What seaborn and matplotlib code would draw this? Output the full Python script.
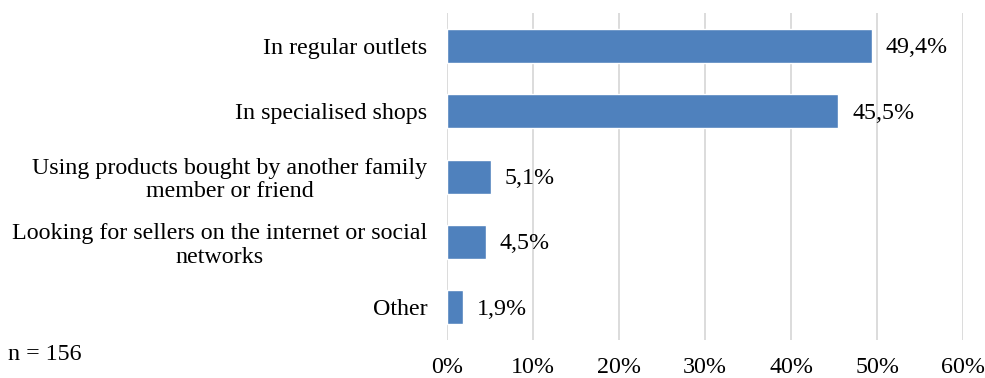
import matplotlib
matplotlib.use("Agg")
import matplotlib.pyplot as plt
import seaborn as sns
import pandas as pd

categories = [
    "In regular outlets",
    "In specialised shops",
    "Using products bought by another family\nmember or friend",
    "Looking for sellers on the internet or social\nnetworks",
    "Other",
]
values = [49.4, 45.5, 5.1, 4.5, 1.9]
value_labels = ["49,4%", "45,5%", "5,1%", "4,5%", "1,9%"]
x_ticks = [0, 10, 20, 30, 40, 50, 60]
x_tick_labels = ["0%", "10%", "20%", "30%", "40%", "50%", "60%"]
note = "n = 156"

sns.set_theme(style="white")
plt.rcParams["font.family"] = ["Liberation Serif", "DejaVu Serif"]
plt.rcParams["text.color"] = "black"
plt.rcParams["xtick.color"] = "black"
plt.rcParams["ytick.color"] = "black"

FS = 17.3

df = pd.DataFrame({"category": categories, "value": values})

fig = plt.figure(figsize=(9.85, 3.78), dpi=100)
ax = fig.add_axes([0.4538, 0.1005, 0.5240, 0.8651])

sns.barplot(data=df, x="value", y="category", orient="h", color="#4F81BD",
            saturation=1, width=0.52, ax=ax, zorder=3)

ax.set_xlim(0, 60)
ax.set_xticks(x_ticks)
ax.set_xticklabels(x_tick_labels, fontsize=FS)
ax.tick_params(axis="y", labelsize=FS, length=0, pad=14)
ax.tick_params(axis="x", length=0, pad=12)
for lbl in ax.get_yticklabels():
    lbl.set_linespacing(1.14)
    lbl.set_multialignment("center")
ax.set_xlabel("")
ax.set_ylabel("")
ax.xaxis.grid(True, color="#D9D9D9", linewidth=1.3, zorder=0)
ax.yaxis.grid(False)
for s in ax.spines.values():
    s.set_visible(False)

for i, (v, t) in enumerate(zip(values, value_labels)):
    ax.annotate(t, xy=(v, i), xytext=(14, -2), textcoords="offset pixels",
                va="center", ha="left", fontsize=FS, color="black")

fig.text(8 / 985, 1 - 354 / 378, note, fontsize=FS, va="center", ha="left")

fig.savefig("out.png", dpi=100)
